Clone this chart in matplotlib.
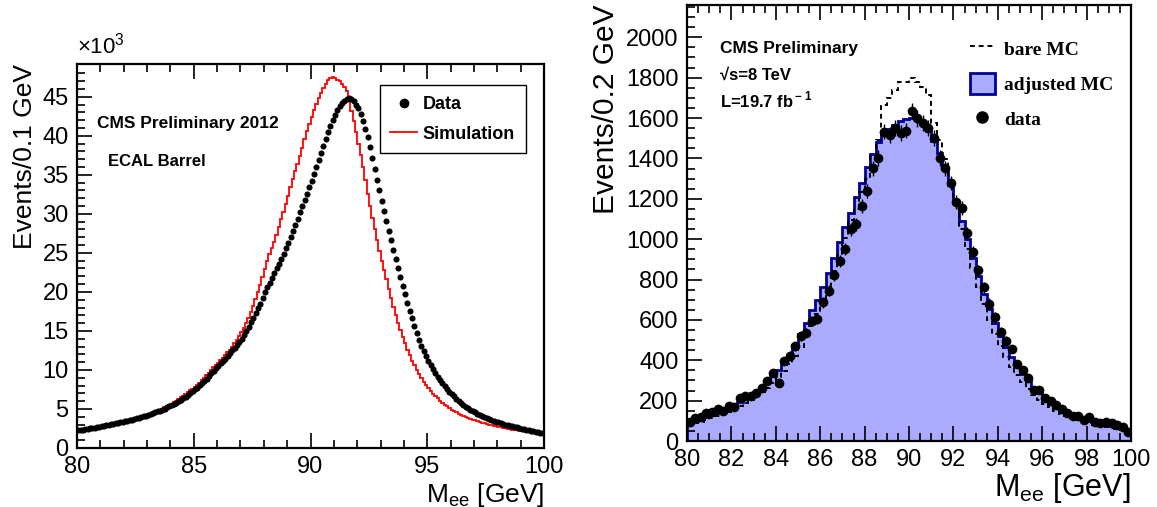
import numpy as np
import matplotlib
matplotlib.use('Agg')
import matplotlib.pyplot as plt
from matplotlib.lines import Line2D
from matplotlib.patches import Patch

plt.rcParams['font.family'] = ['Liberation Sans', 'DejaVu Sans']
plt.rcParams['mathtext.fontset'] = 'custom'
plt.rcParams['mathtext.rm'] = 'Liberation Sans'
plt.rcParams['mathtext.bf'] = 'Liberation Sans:bold'

# ---------------- left panel: ECAL barrel, 0.1 GeV bins, values in 10^3 events
left_lo, left_hi, left_nbins = 80.0, 100.0, 200
left_data = [
    2.30, 2.33, 2.37, 2.41, 2.45, 2.50, 2.55, 2.60, 2.66, 2.72,
    2.78, 2.84, 2.90, 2.96, 3.02, 3.08, 3.14, 3.21, 3.28, 3.35,
    3.42, 3.49, 3.56, 3.64, 3.72, 3.80, 3.88, 3.97, 4.06, 4.15,
    4.25, 4.35, 4.46, 4.57, 4.68, 4.80, 4.93, 5.06, 5.20, 5.34,
    5.50, 5.65, 5.82, 6.00, 6.18, 6.38, 6.58, 6.80, 7.02, 7.25,
    7.50, 7.75, 8.02, 8.30, 8.60, 8.90, 9.22, 9.56, 9.92, 10.25,
    10.55, 10.85, 11.15, 11.45, 11.80, 12.15, 12.50, 12.85, 13.20, 13.60,
    14.00, 14.45, 14.95, 15.50, 16.10, 16.70, 17.30, 17.90, 18.50, 19.20,
    20.00, 20.60, 21.20, 21.80, 22.40, 23.00, 23.60, 24.20, 24.90, 25.60,
    26.30, 27.00, 27.80, 28.60, 29.40, 30.20, 31.00, 31.80, 32.60, 33.40,
    34.20, 35.10, 36.00, 36.90, 37.80, 38.70, 39.60, 40.50, 41.30, 42.00,
    42.70, 43.30, 43.80, 44.20, 44.50, 44.70, 44.80, 44.70, 44.40, 44.00,
    43.50, 42.80, 41.90, 40.90, 39.80, 38.60, 37.20, 35.80, 34.40, 33.00,
    31.70, 30.40, 29.10, 27.80, 26.60, 25.40, 24.20, 23.00, 21.90, 20.80,
    19.70, 18.60, 17.60, 16.60, 15.60, 14.70, 13.90, 13.10, 12.40, 11.80,
    11.10, 10.60, 10.10, 9.60, 9.10, 8.70, 8.30, 7.90, 7.55, 7.20,
    6.90, 6.60, 6.30, 6.00, 5.75, 5.50, 5.30, 5.10, 4.90, 4.70,
    4.55, 4.40, 4.25, 4.10, 3.95, 3.82, 3.70, 3.58, 3.47, 3.37,
    3.27, 3.18, 3.09, 3.00, 2.92, 2.84, 2.77, 2.70, 2.63, 2.56,
    2.49, 2.42, 2.35, 2.28, 2.21, 2.14, 2.08, 2.02, 1.96, 1.90,
]
left_sim = [
    2.28, 2.31, 2.35, 2.39, 2.43, 2.48, 2.53, 2.58, 2.64, 2.70,
    2.76, 2.82, 2.88, 2.94, 3.00, 3.06, 3.12, 3.19, 3.26, 3.33,
    3.40, 3.47, 3.55, 3.63, 3.71, 3.80, 3.89, 3.98, 4.08, 4.18,
    4.29, 4.40, 4.52, 4.64, 4.77, 4.91, 5.05, 5.20, 5.36, 5.52,
    5.70, 5.88, 6.07, 6.27, 6.48, 6.70, 6.93, 7.17, 7.42, 7.60,
    7.80, 8.08, 8.37, 8.67, 8.98, 9.30, 9.63, 9.97, 10.32, 10.65,
    10.95, 11.25, 11.55, 11.90, 12.25, 12.60, 13.00, 13.40, 13.85, 14.35,
    14.85, 15.40, 16.00, 16.70, 17.40, 18.20, 19.10, 20.00, 20.90, 21.90,
    22.90, 23.90, 24.80, 25.60, 26.40, 27.30, 28.30, 29.30, 30.30, 31.30,
    32.30, 33.40, 34.50, 35.50, 36.40, 37.40, 38.50, 39.60, 40.60, 41.50,
    42.40, 43.30, 44.10, 44.80, 45.50, 46.10, 46.70, 47.10, 47.40, 47.50,
    47.40, 47.20, 47.00, 46.70, 46.30, 45.70, 44.50, 43.20, 41.90, 40.50,
    39.00, 37.50, 36.00, 34.30, 32.60, 31.00, 29.50, 28.00, 26.60, 25.30,
    24.00, 22.80, 21.60, 20.40, 19.20, 18.10, 17.00, 16.00, 15.10, 14.20,
    13.40, 12.60, 11.90, 11.20, 10.60, 10.00, 9.45, 8.95, 8.50, 8.05,
    7.65, 7.30, 6.95, 6.65, 6.35, 6.05, 5.80, 5.55, 5.32, 5.10,
    4.90, 4.72, 4.55, 4.40, 4.25, 4.12, 4.00, 3.88, 3.76, 3.65,
    3.54, 3.44, 3.34, 3.25, 3.16, 3.07, 2.99, 2.91, 2.84, 2.77,
    2.70, 2.64, 2.58, 2.52, 2.46, 2.41, 2.36, 2.31, 2.26, 2.21,
    2.17, 2.13, 2.09, 2.05, 2.01, 1.97, 1.93, 1.89, 1.85, 1.81,
]

# ---------------- right panel: 80 bins between 80 and 100 GeV
right_lo, right_hi, right_nbins = 80.0, 100.0, 80
right_data = [
    95, 112, 117, 137, 145, 157, 148, 175, 170, 212,
    223, 225, 240, 262, 295, 337, 287, 395, 423, 470,
    520, 537, 595, 603, 687, 745, 820, 890, 950, 1049,
    1074, 1164, 1238, 1352, 1402, 1533, 1516, 1549, 1525, 1538,
    1634, 1598, 1574, 1552, 1500, 1402, 1352, 1279, 1184, 1156,
    1030, 935, 845, 762, 680, 613, 542, 497, 455, 383,
    350, 310, 255, 252, 215, 200, 178, 158, 140, 125,
    123, 105, 118, 95, 87, 95, 87, 78, 70, 45,
]
right_adjusted = [
    90, 100, 108, 117, 127, 138, 150, 163, 177, 192,
    208, 226, 246, 268, 293, 320, 352, 388, 428, 475,
    528, 585, 648, 700, 765, 830, 905, 985, 1060, 1130,
    1210, 1280, 1355, 1420, 1480, 1520, 1545, 1565, 1585, 1595,
    1600, 1590, 1570, 1535, 1485, 1425, 1350, 1270, 1180, 1090,
    1000, 905, 815, 730, 655, 585, 520, 465, 415, 370,
    330, 295, 265, 237, 213, 192, 173, 157, 143, 130,
    119, 109, 100, 92, 85, 79, 73, 68, 63, 55,
]
right_bare = [
    80, 88, 95, 103, 112, 122, 133, 145, 158, 172,
    187, 203, 221, 241, 263, 288, 315, 345, 380, 420,
    465, 515, 570, 630, 695, 765, 840, 920, 1005, 1095,
    1150, 1235, 1300, 1410, 1490, 1665, 1700, 1740, 1780, 1780,
    1800, 1780, 1755, 1715, 1575, 1490, 1395, 1295, 1195, 1050,
    950, 855, 765, 680, 600, 530, 470, 415, 365, 325,
    290, 258, 230, 205, 185, 167, 150, 136, 124, 113,
    103, 95, 88, 81, 75, 70, 65, 60, 56, 52,
]

W, H = 1157, 507
fig = plt.figure(figsize=(W / 100, H / 100), dpi=100)


def px_axes(x0, x1, y0, y1):
    # pixel box (top-left origin) -> figure fraction
    return fig.add_axes([x0 / W, 1 - y1 / H, (x1 - x0) / W, (y1 - y0) / H])


def root_style(ax):
    for s in ax.spines.values():
        s.set_linewidth(1.6)
    ax.tick_params(which='both', direction='in', top=True, right=False,
                   labelsize=17, width=1.2, pad=6)
    ax.tick_params(which='major', length=11)
    ax.tick_params(which='minor', length=6)


# ======== left ========
ax1 = px_axes(77, 544, 64, 448)
edges_l = np.linspace(left_lo, left_hi, left_nbins + 1)
cent_l = 0.5 * (edges_l[1:] + edges_l[:-1])
ax1.stairs(left_sim, edges_l, color='red', lw=1.3, label='Simulation')
ax1.plot(cent_l, left_data, 'o', color='black', ms=4.4, mec='none', label='Data')
ax1.set_xlim(80, 100)
ax1.set_ylim(0, 49.2)
ax1.set_xticks(np.arange(80, 101, 5))
ax1.set_xticks(np.arange(80, 101, 1), minor=True)
ax1.set_yticks(np.arange(0, 46, 5))
ax1.set_yticks(np.arange(0, 49, 1), minor=True)
root_style(ax1)
ax1.set_xlabel(r'M$_{\rm ee}$ [GeV]', fontsize=19, loc='right', labelpad=2)
ax1.set_ylabel('Events/0.1 GeV', fontsize=19, loc='top', labelpad=4)
ax1.text(0.0, 1.015, r'×10$^{3}$', transform=ax1.transAxes, fontsize=16,
         ha='left', va='bottom')
ax1.text(0.043, 0.845, 'CMS Preliminary 2012', transform=ax1.transAxes,
         fontsize=12.5, fontweight='bold', va='center')
ax1.text(0.066, 0.747, 'ECAL Barrel', transform=ax1.transAxes,
         fontsize=12, fontweight='bold', va='center')
h_data = Line2D([], [], ls='none', marker='o', color='black', ms=6)
h_sim = Line2D([], [], color='red', lw=1.3)
leg1 = ax1.legend([h_data, h_sim], ['Data', 'Simulation'],
                  loc='upper left', bbox_to_anchor=(0.648, 0.945),
                  prop={'weight': 'bold', 'size': 13}, frameon=True,
                  fancybox=False, edgecolor='black', framealpha=1,
                  borderpad=0.6, labelspacing=0.7, handlelength=1.45,
                  handletextpad=0.35, borderaxespad=0)
leg1.get_frame().set_linewidth(1.0)

# ======== right ========
ax2 = px_axes(687, 1131, 5, 441)
edges_r = np.linspace(right_lo, right_hi, right_nbins + 1)
cent_r = 0.5 * (edges_r[1:] + edges_r[:-1])
ax2.stairs(right_adjusted, edges_r, fill=True, color='#aaaaff', lw=0)
ax2.stairs(right_adjusted, edges_r, color='#000099', lw=2.0)
ax2.stairs(right_bare, edges_r, color='black', lw=1.4, ls=(0, (2.5, 2)))
ax2.errorbar(cent_r, right_data, yerr=np.sqrt(right_data), fmt='o',
             color='black', ms=7, mec='none', elinewidth=1.0, capsize=0)
ax2.set_xlim(80, 100)
ax2.set_ylim(0, 2160)
ax2.set_xticks(np.arange(80, 101, 2))
ax2.set_xticks(np.arange(80, 100.1, 0.5), minor=True)
ax2.set_yticks(np.arange(0, 2001, 200))
ax2.set_yticks(np.arange(0, 2151, 50), minor=True)
root_style(ax2)
ax2.set_xlabel(r'M$_{\rm ee}$ [GeV]', fontsize=22, loc='right', labelpad=0)
ax2.set_ylabel('Events/0.2 GeV', fontsize=21.5, loc='top', labelpad=4)
ax2.text(0.075, 0.9, 'CMS Preliminary', transform=ax2.transAxes,
         fontsize=12.5, fontweight='bold', va='center')
ax2.text(0.075, 0.84, '√s=8 TeV', transform=ax2.transAxes,
         fontsize=12, fontweight='bold', va='center')
ax2.text(0.075, 0.783, r'L=19.7 fb$^{\bf -1}$', transform=ax2.transAxes,
         fontsize=12, fontweight='bold', va='center')
h_bare = Line2D([], [], color='black', lw=1.4, ls=(0, (2.5, 2)))
h_adj = Patch(facecolor='#aaaaff', edgecolor='#000099', lw=2)
h_dat = Line2D([], [], ls='none', marker='o', color='black', ms=8)
ax2.legend([h_bare, h_adj, h_dat], ['bare MC', 'adjusted MC', 'data'],
           loc='upper left', bbox_to_anchor=(0.637, 0.925),
           prop={'family': 'Liberation Serif', 'weight': 'bold', 'size': 14},
           frameon=False, borderpad=0, labelspacing=0.72, handlelength=1.3,
           handleheight=1.3, handletextpad=0.45, borderaxespad=0)

fig.savefig('out.png', dpi=100)
